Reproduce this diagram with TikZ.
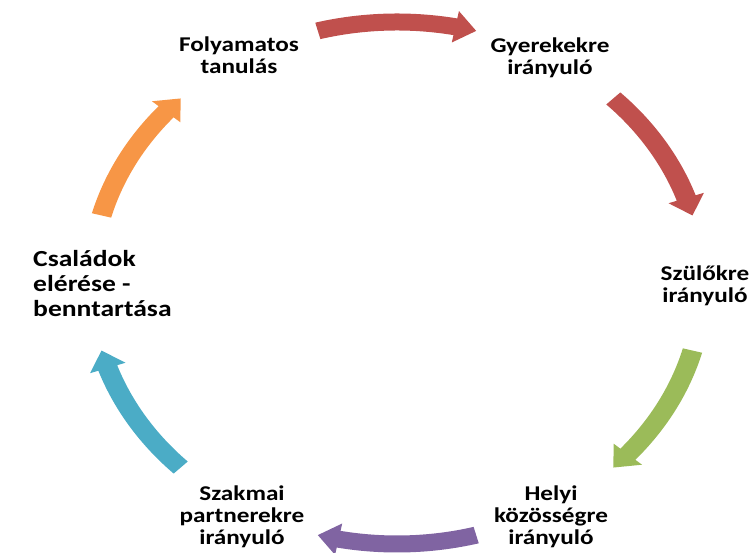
\documentclass[tikz,border=0pt]{standalone}
\usepackage{fontspec}
\newfontfamily\labfont[FakeStretch=1.2]{Carlito}
\definecolor{cred}{HTML}{C0504D}
\definecolor{cgreen}{HTML}{9BBB59}
\definecolor{cpurple}{HTML}{8064A2}
\definecolor{ccyan}{HTML}{4BACC6}
\definecolor{corange}{HTML}{F79646}
\tikzset{
  lab/.style={inner sep=0pt, align=center, font=\labfont\bfseries\fontsize{21bp}{22bp}\selectfont},
  biglab/.style={inner sep=0pt, align=left, font=\labfont\bfseries\fontsize{23bp}{25bp}\selectfont},
}
% arrow band: #1 = centre angle, #2 = colour
\newcommand{\cyclearrow}[2]{%
  \pgfmathsetmacro{\aone}{#1+15}%
  \pgfmathsetmacro{\atwo}{#1-15}%
  \pgfmathsetmacro{\ab}{#1-11}%
  \fill[#2] (\aone:269.5) arc[start angle=\aone, end angle=\ab, radius=269.5]
     -- (\ab:277) -- (\atwo:261) -- (\ab:245) -- (\ab:252.5)
     arc[start angle=\ab, end angle=\aone, radius=252.5] -- cycle;}
\begin{document}
\begin{tikzpicture}[x=1bp,y=1bp]
\useasboundingbox (0,0) rectangle (750,553);
\begin{scope}[shift={(397,270)}, xscale=1.172]
  \cyclearrow{90}{cred}
  \cyclearrow{30}{cred}
  \cyclearrow{-30}{cgreen}
  \cyclearrow{-90}{cpurple}
  \cyclearrow{-150}{ccyan}
  \cyclearrow{150}{corange}
\end{scope}
\node[lab] (n1) at (239,497.5) {Folyamatos\\tanulás};
\node[lab] (n2) at (550,495.5) {Gyerekekre\\irányuló};
\node[lab] (n3) at (705,267.5) {Szülőkre\\irányuló};
\node[lab] (n4) at (551,36.5) {Helyi\\közösségre\\irányuló};
\node[lab] (n5) at (242,36.5) {Szakmai\\partnerekre\\irányuló};
\node[biglab, anchor=west] (n6) at (33,269.5) {Családok\\elérése -\\benntartása};
\end{tikzpicture}
\end{document}
